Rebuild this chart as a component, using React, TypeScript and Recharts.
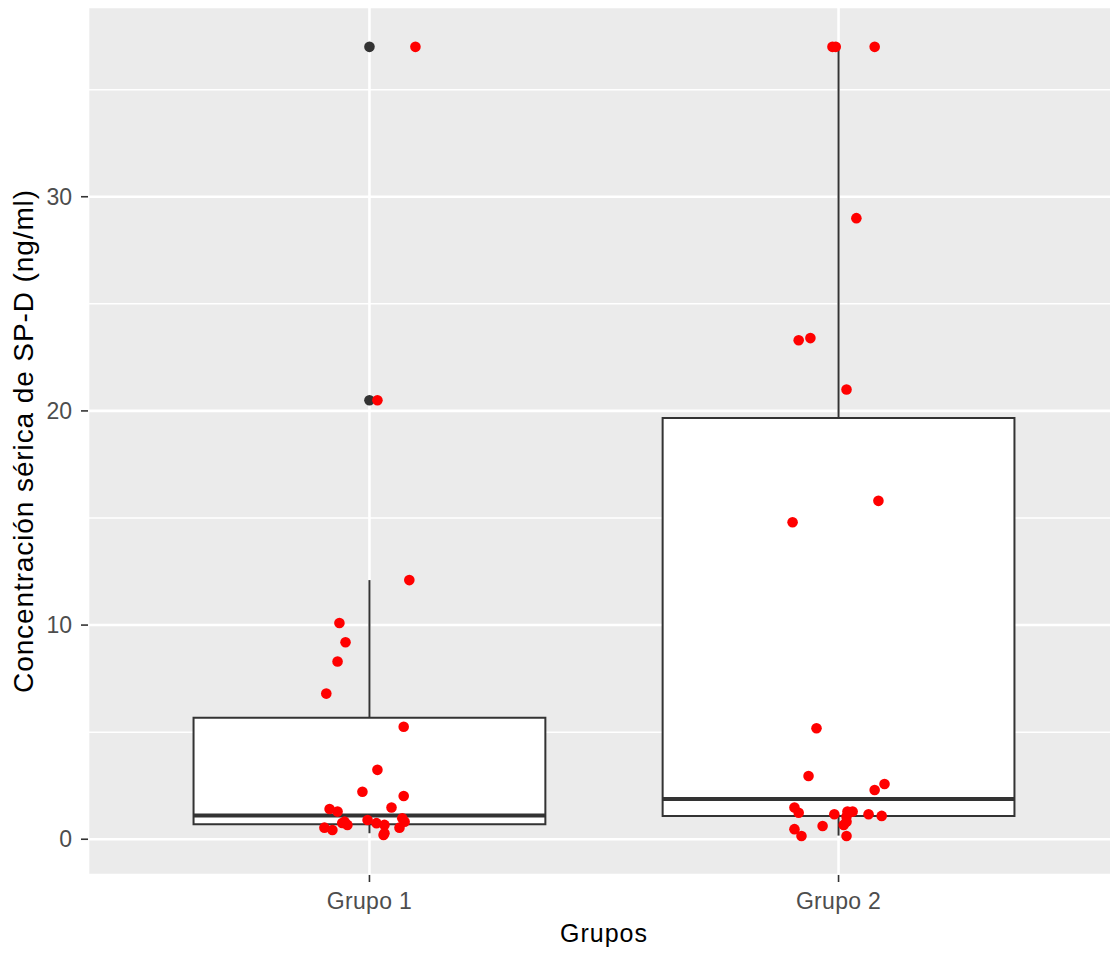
import React from 'react';
import {
	ComposedChart,
	Scatter,
	XAxis,
	YAxis,
	CartesianGrid,
	ReferenceArea,
	ReferenceLine,
} from 'recharts';

const FONT = '"Liberation Sans", Arial, sans-serif';

// Group labels on the x axis
const groupLabels = ['Grupo 1', 'Grupo 2'];

// Serum SP-D (ng/ml) per patient, with the horizontal jitter of each dot
const grupo1Values = [
	37.0, 20.5, 12.1, 10.1, 9.2, 8.3, 6.8, 5.25, 3.24, 2.22, 2.02, 1.48, 1.41, 1.29,
	0.98, 0.9, 0.82, 0.82, 0.76, 0.75, 0.67, 0.67, 0.54, 0.54, 0.43, 0.28, 0.2,
];
const grupo1Jitter = [
	0.098, 0.017, 0.085, -0.064, -0.051, -0.068, -0.092, 0.073, 0.017, -0.015, 0.073, 0.047, -0.085, -0.068,
	0.07, -0.004, -0.053, 0.075, -0.058, 0.015, -0.047, 0.032, -0.096, 0.064, -0.079, 0.032, 0.03,
];
const grupo2Values = [
	37.0, 37.0, 37.0, 29.0, 23.3, 23.4, 21.0, 15.8, 14.8, 5.18, 2.95, 2.58, 2.3, 1.48,
	1.24, 1.17, 1.29, 1.29, 1.06, 1.17, 1.09, 0.82, 0.67, 0.62, 0.47, 0.15, 0.15,
];
const grupo2Jitter = [
	-0.013, -0.006, 0.077, 0.038, -0.085, -0.06, 0.017, 0.085, -0.098, -0.047, -0.064, 0.098, 0.077, -0.094,
	-0.085, -0.009, 0.019, 0.03, 0.017, 0.064, 0.092, 0.017, 0.011, -0.034, -0.094, -0.079, 0.017,
];

// Box statistics: [lower whisker, Q1, median, Q3, upper whisker]
const grupo1Box = [0.28, 0.7, 1.11, 5.67, 12.1];
const grupo2Box = [0.17, 1.08, 1.88, 19.67, 37.0];

// Values beyond the whiskers
const grupo1Outliers = [20.5, 37.0];
const grupo2Outliers: number[] = [];

const yTicks = [0, 10, 20, 30];
const yMinor = [5, 15, 25, 35];

const boxes = [grupo1Box, grupo2Box];
const BOX_HALF = 0.375;

const jitterData = [
	...grupo1Values.map((v, i) => ({ x: 1 + grupo1Jitter[i], y: v })),
	...grupo2Values.map((v, i) => ({ x: 2 + grupo2Jitter[i], y: v })),
];
const outlierData = [
	...grupo1Outliers.map((v) => ({ x: 1, y: v })),
	...grupo2Outliers.map((v) => ({ x: 2, y: v })),
];

const dot = (color: string) => (props: any) => (
	<circle cx={props.cx} cy={props.cy} r={5.3} fill={color} />
);

const YTitle = (props: any) => {
	const vb = props.viewBox;
	const cx = vb.x + 33;
	const cy = vb.y + vb.height / 2;
	return (
		<text
			x={cx}
			y={cy}
			transform={`rotate(-90, ${cx}, ${cy})`}
			textAnchor="middle"
			fontFamily={FONT}
			fontSize={28}
			letterSpacing={0.9}
			fill="#000"
		>
			Concentración sérica de SP-D (ng/ml)
		</text>
	);
};

const XTitle = (props: any) => {
	const vb = props.viewBox;
	return (
		<text
			x={vb.x + vb.width / 2}
			y={vb.y + 67}
			textAnchor="middle"
			fontFamily={FONT}
			fontSize={25}
			letterSpacing={1}
			fill="#000"
		>
			Grupos
		</text>
	);
};

export default function App() {
	return (
		<div style={{ position: 'absolute', left: 0, top: 0, width: 1110, height: 954, overflow: 'hidden', background: '#fff' }}>
			<ComposedChart width={1120} height={954} margin={{ top: 7, right: 0, bottom: 0, left: 0 }}>
				<CartesianGrid fill="#EBEBEB" stroke="#FFFFFF" strokeWidth={2.6} />
				<CartesianGrid horizontalValues={yMinor} vertical={false} stroke="#FFFFFF" strokeWidth={1.5} />
				<XAxis
					type="number"
					dataKey="x"
					domain={[0.4, 2.6]}
					allowDataOverflow
					ticks={[1, 2]}
					interval={0}
					tickFormatter={(v: number) => groupLabels[v - 1]}
					height={79}
					axisLine={false}
					tickSize={7}
					tickMargin={11}
					tickLine={{ stroke: '#333333', strokeWidth: 1.6 }}
					tick={{ fill: '#4D4D4D', fontSize: 23, fontFamily: FONT, letterSpacing: 0.3 }}
					label={<XTitle />}
				/>
				<YAxis
					type="number"
					dataKey="y"
					domain={[-1.67, 38.86]}
					allowDataOverflow
					ticks={yTicks}
					interval={0}
					width={88}
					axisLine={false}
					tickSize={7}
					tickMargin={9}
					tickLine={{ stroke: '#333333', strokeWidth: 1.6 }}
					tick={{ fill: '#4D4D4D', fontSize: 23, fontFamily: FONT }}
					label={<YTitle />}
				/>
				{boxes.map((b, i) => (
					<ReferenceLine
						key={`wl-${i}`}
						segment={[{ x: i + 1, y: b[0] }, { x: i + 1, y: b[1] }]}
						stroke="#333333"
						strokeWidth={2}
					/>
				))}
				{boxes.map((b, i) => (
					<ReferenceLine
						key={`wu-${i}`}
						segment={[{ x: i + 1, y: b[3] }, { x: i + 1, y: b[4] }]}
						stroke="#333333"
						strokeWidth={2}
					/>
				))}
				{boxes.map((b, i) => (
					<ReferenceArea
						key={`box-${i}`}
						x1={i + 1 - BOX_HALF}
						x2={i + 1 + BOX_HALF}
						y1={b[1]}
						y2={b[3]}
						fill="#FFFFFF"
						fillOpacity={1}
						stroke="#333333"
						strokeWidth={2}
					/>
				))}
				{boxes.map((b, i) => (
					<ReferenceLine
						key={`med-${i}`}
						segment={[{ x: i + 1 - BOX_HALF, y: b[2] }, { x: i + 1 + BOX_HALF, y: b[2] }]}
						stroke="#333333"
						strokeWidth={4}
					/>
				))}
				<Scatter data={outlierData} dataKey="y" shape={dot('#333333')} isAnimationActive={false} />
				<Scatter data={jitterData} dataKey="y" shape={dot('#FF0000')} isAnimationActive={false} />
			</ComposedChart>
		</div>
	);
}
